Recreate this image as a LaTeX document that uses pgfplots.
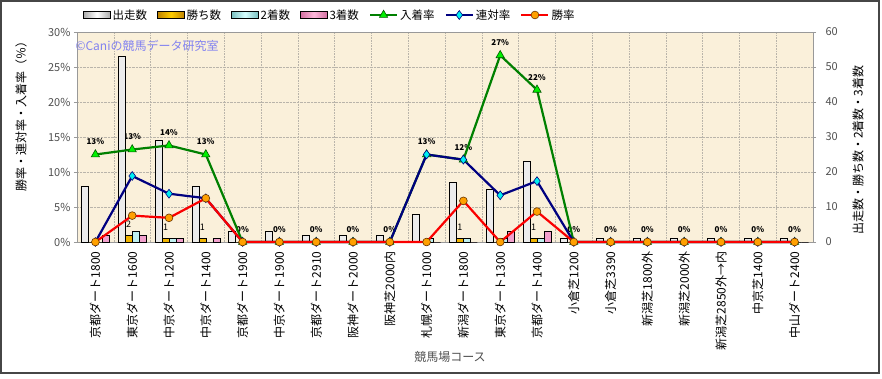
\documentclass[border=0pt]{standalone}
\usepackage{fontspec}
\setmainfont{Noto Sans CJK JP}
\usepackage{pgfplots}
\usepackage{pgfplotstable}
\pgfplotsset{compat=1.18}
\definecolor{bgc}{RGB}{250,240,218}
\definecolor{gridc}{RGB}{185,180,170}
\definecolor{wm}{RGB}{130,130,240}
\definecolor{gline}{RGB}{0,128,0}
\definecolor{gmark}{RGB}{0,240,0}
\definecolor{bline}{RGB}{0,0,128}
\definecolor{bmark}{RGB}{0,240,240}
\definecolor{rline}{RGB}{250,0,0}
\definecolor{omark}{RGB}{255,160,0}
\definecolor{frame}{RGB}{70,70,70}
\definecolor{ticktext}{RGB}{80,80,80}
\definecolor{runE}{RGB}{170,170,170}
\definecolor{runF}{RGB}{236,236,236}
\definecolor{winE}{RGB}{190,130,0}
\definecolor{winM}{RGB}{255,205,0}
\definecolor{winF}{RGB}{240,180,0}
\definecolor{secE}{RGB}{120,190,190}
\definecolor{secM}{RGB}{215,255,255}
\definecolor{secF}{RGB}{190,240,240}
\definecolor{thiE}{RGB}{210,110,160}
\definecolor{thiM}{RGB}{255,185,220}
\definecolor{thiF}{RGB}{242,160,205}

\pgfplotstableread{
x runs win second third winr rentai inchaku wlab
0 16 0 0 2 0 0 12.5 {}
1 53 2 3 2 3.77 9.43 13.21 2
2 29 1 1 1 3.45 6.90 13.79 1
3 16 1 0 1 6.25 6.25 12.5 1
4 3 0 0 0 0 0 0 {}
5 3 0 0 0 0 0 0 {}
6 2 0 0 0 0 0 0 {}
7 2 0 0 0 0 0 0 {}
8 2 0 0 0 0 0 0 {}
9 8 0 1 0 0 12.5 12.5 {}
10 17 1 1 0 5.88 11.76 11.76 1
11 15 0 1 3 0 6.67 26.67 {}
12 23 1 1 3 4.35 8.70 21.74 1
13 1 0 0 0 0 0 0 {}
14 1 0 0 0 0 0 0 {}
15 1 0 0 0 0 0 0 {}
16 1 0 0 0 0 0 0 {}
17 1 0 0 0 0 0 0 {}
18 1 0 0 0 0 0 0 {}
19 1 0 0 0 0 0 0 {}
}\datatable

\pgfplotsset{
  base/.style={at={(77pt,136pt)}, anchor=south west, scale only axis,
    width=736pt, height=210pt, xmin=-0.5, xmax=19.5,
    /pgf/number format/assume math mode=true},
  barleg/.style={legend image code/.code={\draw[##1] (0pt,-3.5pt) rectangle (27pt,3.5pt);}},
  lineleg/.style={legend image code/.code={\draw[mark repeat=2,mark phase=2,##1] plot coordinates {(0pt,0pt) (13.5pt,0pt) (27pt,0pt)};}},
  runsstyle/.style={draw=black, line width=0.5pt, fill=runF},
  winstyle/.style={draw=black, line width=0.5pt, fill=winF},
  secstyle/.style={draw=black, line width=0.5pt, fill=secF},
  thirdstyle/.style={draw=black, line width=0.5pt, fill=thiF},
  runsleg/.style={draw=black, line width=0.5pt, left color=runE, right color=runE, middle color=white},
  winleg/.style={draw=black, line width=0.5pt, left color=winE, right color=winE, middle color=winM},
  secleg/.style={draw=black, line width=0.5pt, left color=secE, right color=secE, middle color=secM},
  thirdleg/.style={draw=black, line width=0.5pt, left color=thiE, right color=thiE, middle color=thiM},
  gstyle/.style={gline, line width=2.2pt, mark=triangle*, mark size=4.8pt, mark options={solid, fill=gmark, draw=gline!70!black, line width=0.6pt}},
  bstyle/.style={bline, line width=2.2pt, mark=diamond*, mark size=4.4pt, mark options={solid, fill=bmark, draw=bline, line width=0.6pt}},
  rstyle/.style={rline, line width=2.2pt, mark=*, mark size=3.9pt, mark options={solid, fill=omark, draw=orange!40!black, line width=0.6pt}},
}

\begin{document}
\begin{tikzpicture}
\path[fill=white] (0,0) rectangle (882pt,378pt);
\path[use as bounding box] (0,0) rectangle (882pt,378pt);

% axis A: background, grid, left scale, category labels, 入着率 labels
\begin{axis}[base, ymin=0, ymax=30,
  axis background/.style={fill=bgc},
  axis line style={draw=gray!80},
  xtick={0,...,19},
  xticklabels={京都ダート1800,東京ダート1600,中京ダート1200,中京ダート1400,京都ダート1900,中京ダート1900,京都ダート2910,阪神ダート2000,阪神芝2000内,札幌ダート1000,新潟ダート1800,東京ダート1300,京都ダート1400,小倉芝1200,小倉芝3390,新潟芝1800外,新潟芝2000外,新潟芝2850外→内,中京芝1400,中山ダート2400},
  x tick label style={rotate=90, anchor=east, font=\fontsize{12}{12}\selectfont},
  xticklabel shift=3pt,
  xtick style={draw=none},
  minor xtick={-0.5,0.5,...,19.5},
  minor tick length=0pt,
  xminorgrids, ymajorgrids,
  grid style={densely dotted, gridc, line width=0.6pt},
  minor grid style={densely dotted, gridc, line width=0.6pt},
  ytick={0,5,...,30},
  ytick pos=left,
  ytick style={draw=gray!80},
  tick align=outside, major tick length=3pt,
  yticklabel={\pgfmathprintnumber{\tick}\%},
  y tick label style={font=\fontsize{11}{11}\selectfont, text=ticktext},
  xlabel={競馬場コース},
  xlabel style={at={(rel axis cs:0.5068,-0.546)}, anchor=center, font=\fontsize{12}{12}\selectfont, text=ticktext},
  ylabel={勝率・連対率・入着率（％）},
  ylabel style={at={(rel axis cs:-0.0761,0.614)}, anchor=center, font=\fontsize{12}{12}\selectfont},
]
\addplot[draw=none, mark=none, point meta=y,
  nodes near coords={\pgfmathprintnumber[fixed,precision=0]{\pgfplotspointmeta}\%},
  every node near coord/.append style={font=\fontsize{8}{8}\selectfont\bfseries, text=black, anchor=south, yshift=6pt}]
  table[x=x,y=inchaku]{\datatable};
\end{axis}

% axis B: bars on right scale
\begin{axis}[base, ymin=0, ymax=60,
  axis x line=none, axis y line*=right,
  axis line style={draw=gray!80},
  ytick={0,10,...,60}, ytick style={draw=gray!80},
  tick align=outside, major tick length=3pt,
  y tick label style={font=\fontsize{11}{11}\selectfont, text=ticktext},
  yticklabel shift=6pt,
  ylabel={出走数・勝ち数・2着数・3着数},
  ylabel style={at={(rel axis cs:1.0611,0.438)}, anchor=center, font=\fontsize{12}{12}\selectfont},
  ybar=0pt, bar width=7pt]
\addplot[runsstyle] table[x=x,y=runs]{\datatable};
\addplot[winstyle, nodes near coords, point meta=explicit symbolic,
  every node near coord/.append style={font=\fontsize{9}{9}\selectfont, text=black, yshift=4pt}]
  table[x=x,y=win,meta=wlab]{\datatable};
\addplot[secstyle] table[x=x,y=second]{\datatable};
\addplot[thirdstyle] table[x=x,y=third]{\datatable};
\end{axis}

% axis C: rate lines on left scale, legend
\begin{axis}[base, ymin=0, ymax=30, hide axis, clip=false,
  legend columns=7,
  legend style={at={(rel axis cs:0,1)}, anchor=west, xshift=6pt, yshift=17pt,
    draw=none, fill=none, inner sep=0pt, font=\fontsize{11.5}{12}\selectfont,
    /tikz/every even column/.append style={column sep=8pt}},
  legend cell align=left]
\addlegendimage{runsleg, barleg}
\addlegendentry{出走数}
\addlegendimage{winleg, barleg}
\addlegendentry{勝ち数}
\addlegendimage{secleg, barleg}
\addlegendentry{2着数}
\addlegendimage{thirdleg, barleg}
\addlegendentry{3着数}
\addplot[gstyle, lineleg] table[x=x,y=inchaku]{\datatable};
\addlegendentry{入着率}
\addplot[bstyle, lineleg] table[x=x,y=rentai]{\datatable};
\addlegendentry{連対率}
\addplot[rstyle, lineleg] table[x=x,y=winr]{\datatable};
\addlegendentry{勝率}
\end{axis}

\node[anchor=west, text=wm, font=\fontsize{12}{12}\selectfont] at (72pt,332pt) {©Caniの競馬データ研究室};
\draw[frame, line width=1.6pt] (0.8pt,5.2pt) rectangle (879pt,377.2pt);
\end{tikzpicture}
\end{document}
